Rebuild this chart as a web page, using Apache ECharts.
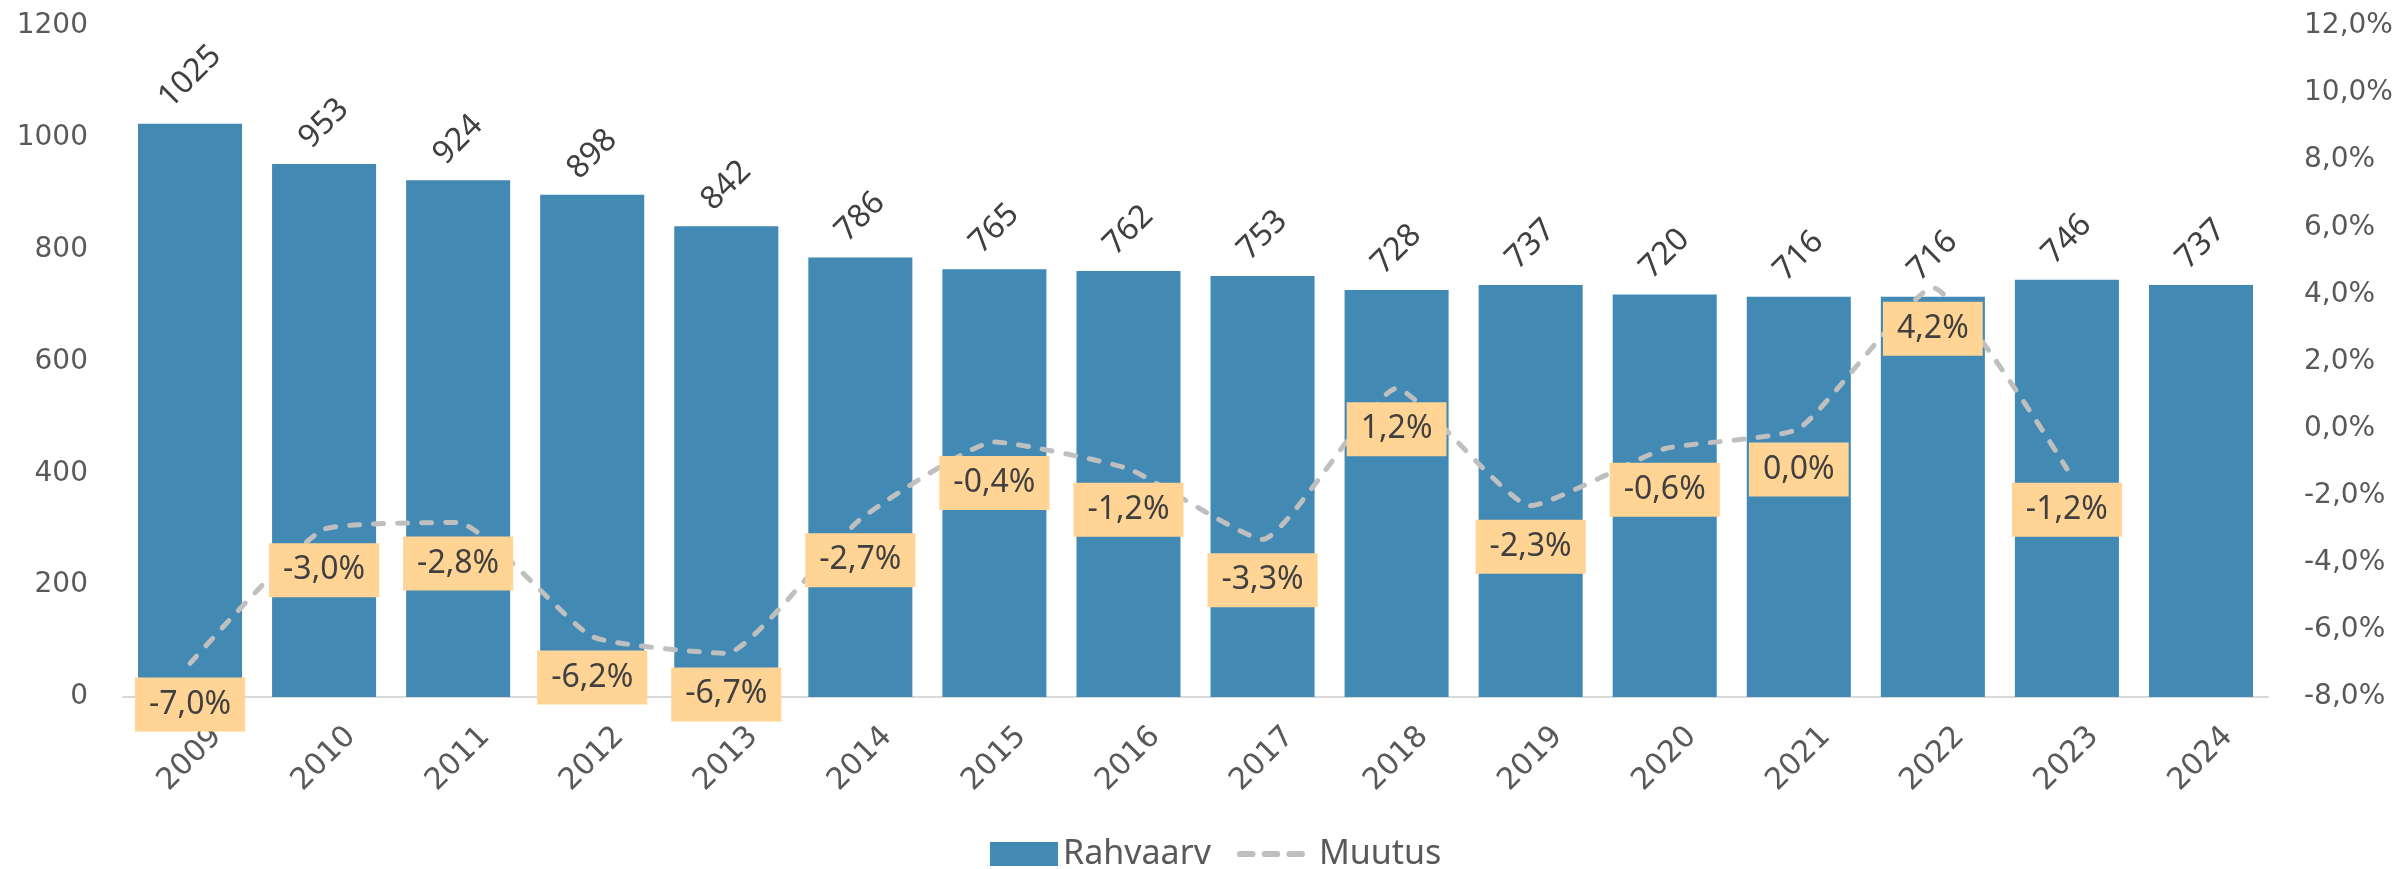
<!DOCTYPE html>
<html>
<head>
<meta charset="utf-8">
<script src="https://cdn.jsdelivr.net/npm/echarts@6/dist/echarts.min.js"></script>
<style>
html,body{margin:0;padding:0;background:#fff;}
#chart{width:2402px;height:869px;}
</style>
</head>
<body>
<div id="chart"></div>
<script>
const years = ['2009','2010','2011','2012','2013','2014','2015','2016','2017','2018','2019','2020','2021','2022','2023','2024'];
const population = [1025, 953, 924, 898, 842, 786, 765, 762, 753, 728, 737, 720, 716, 716, 746, 737];
const changePct = [-7.0, -3.0, -2.8, -6.2, -6.7, -2.7, -0.4, -1.2, -3.3, 1.2, -2.3, -0.6, 0.0, 4.2, -1.2, null];
const leftTicks = {min: 0, max: 1200, interval: 200};
const rightTicks = {min: -8, max: 12, interval: 2};

const fmtPct = v => v.toFixed(1).replace('.', ',') + '%';

const barLabelSize = 32;
const barData = population.map(v => {
  const len = String(v).length;
  return {value: v, label: {distance: 12 + 0.354 * (len * 0.572 * barLabelSize + 0.8 * barLabelSize)}};
});
const lineData = changePct.map(v => v === null ? '-' : v);

const chart = echarts.init(document.getElementById('chart'));
chart.setOption({
  animation: false,
  backgroundColor: '#ffffff',
  textStyle: {fontFamily: 'Noto Sans'},
  grid: {left: 123, right: 134, top: 26, bottom: 172, containLabel: false},
  legend: {
    top: 832, left: 985,
    itemWidth: 68, itemHeight: 24, itemGap: 26,
    textStyle: {fontSize: 34, color: '#595959', fontFamily: 'Noto Sans'},
    data: [
      {name: 'Rahvaarv', icon: 'rect'},
      {name: 'Muutus', textStyle: {padding: [0, 0, 0, 9]}, icon: 'path://M3,0 L15,0 A3,3 0 0 1 15,6 L3,6 A3,3 0 0 1 3,0 Z M27,0 L39,0 A3,3 0 0 1 39,6 L27,6 A3,3 0 0 1 27,0 Z M51,0 L63,0 A3,3 0 0 1 63,6 L51,6 A3,3 0 0 1 51,0 Z', itemStyle: {color: '#BFBFBF'}}
    ]
  },
  xAxis: {
    type: 'category',
    data: years,
    axisLine: {lineStyle: {color: '#D9D9D9', width: 2}},
    axisTick: {show: false},
    axisLabel: {
      rotate: 45, align: 'center', verticalAlign: 'middle', margin: 62,
      fontSize: 30, color: '#595959', fontFamily: 'DejaVu Sans'
    }
  },
  yAxis: [
    {
      type: 'value', min: leftTicks.min, max: leftTicks.max, interval: leftTicks.interval,
      splitLine: {show: false}, axisLine: {show: false}, axisTick: {show: false},
      axisLabel: {fontSize: 28, color: '#595959', margin: 35, fontFamily: 'DejaVu Sans', formatter: v => String(v)}
    },
    {
      type: 'value', min: rightTicks.min, max: rightTicks.max, interval: rightTicks.interval,
      splitLine: {show: false}, axisLine: {show: false}, axisTick: {show: false},
      axisLabel: {fontSize: 28, color: '#595959', margin: 36, fontFamily: 'DejaVu Sans', formatter: v => fmtPct(v)}
    }
  ],
  series: [
    {
      name: 'Rahvaarv', type: 'bar', data: barData,
      barWidth: '77.6%',
      itemStyle: {color: '#4289B3'},
      label: {
        show: true, position: 'top', rotate: 45, align: 'center', verticalAlign: 'middle',
        fontSize: barLabelSize, color: '#404040', fontFamily: 'Noto Sans'
      }
    },
    {
      name: 'Muutus', type: 'line', yAxisIndex: 1, data: lineData,
      smooth: 0.15, symbol: 'none', showSymbol: false, z: 5,
      lineStyle: {color: '#BFBFBF', width: 5, type: [10, 14], cap: 'round'},
      itemStyle: {color: '#BFBFBF'}
    },
    {
      name: 'MuutusLabels', type: 'scatter', yAxisIndex: 1, data: lineData,
      symbolSize: 0, itemStyle: {color: 'rgba(0,0,0,0)', opacity: 1}, z: 6, silent: true,
      label: {
        show: true, position: 'bottom', distance: 14, opacity: 1,
        backgroundColor: '#FFD494', padding: [11, 14, 11, 14],
        fontSize: 32, color: '#404040', fontFamily: 'Noto Sans',
        formatter: p => fmtPct(p.value)
      }
    }
  ]
});
</script>
</body>
</html>
